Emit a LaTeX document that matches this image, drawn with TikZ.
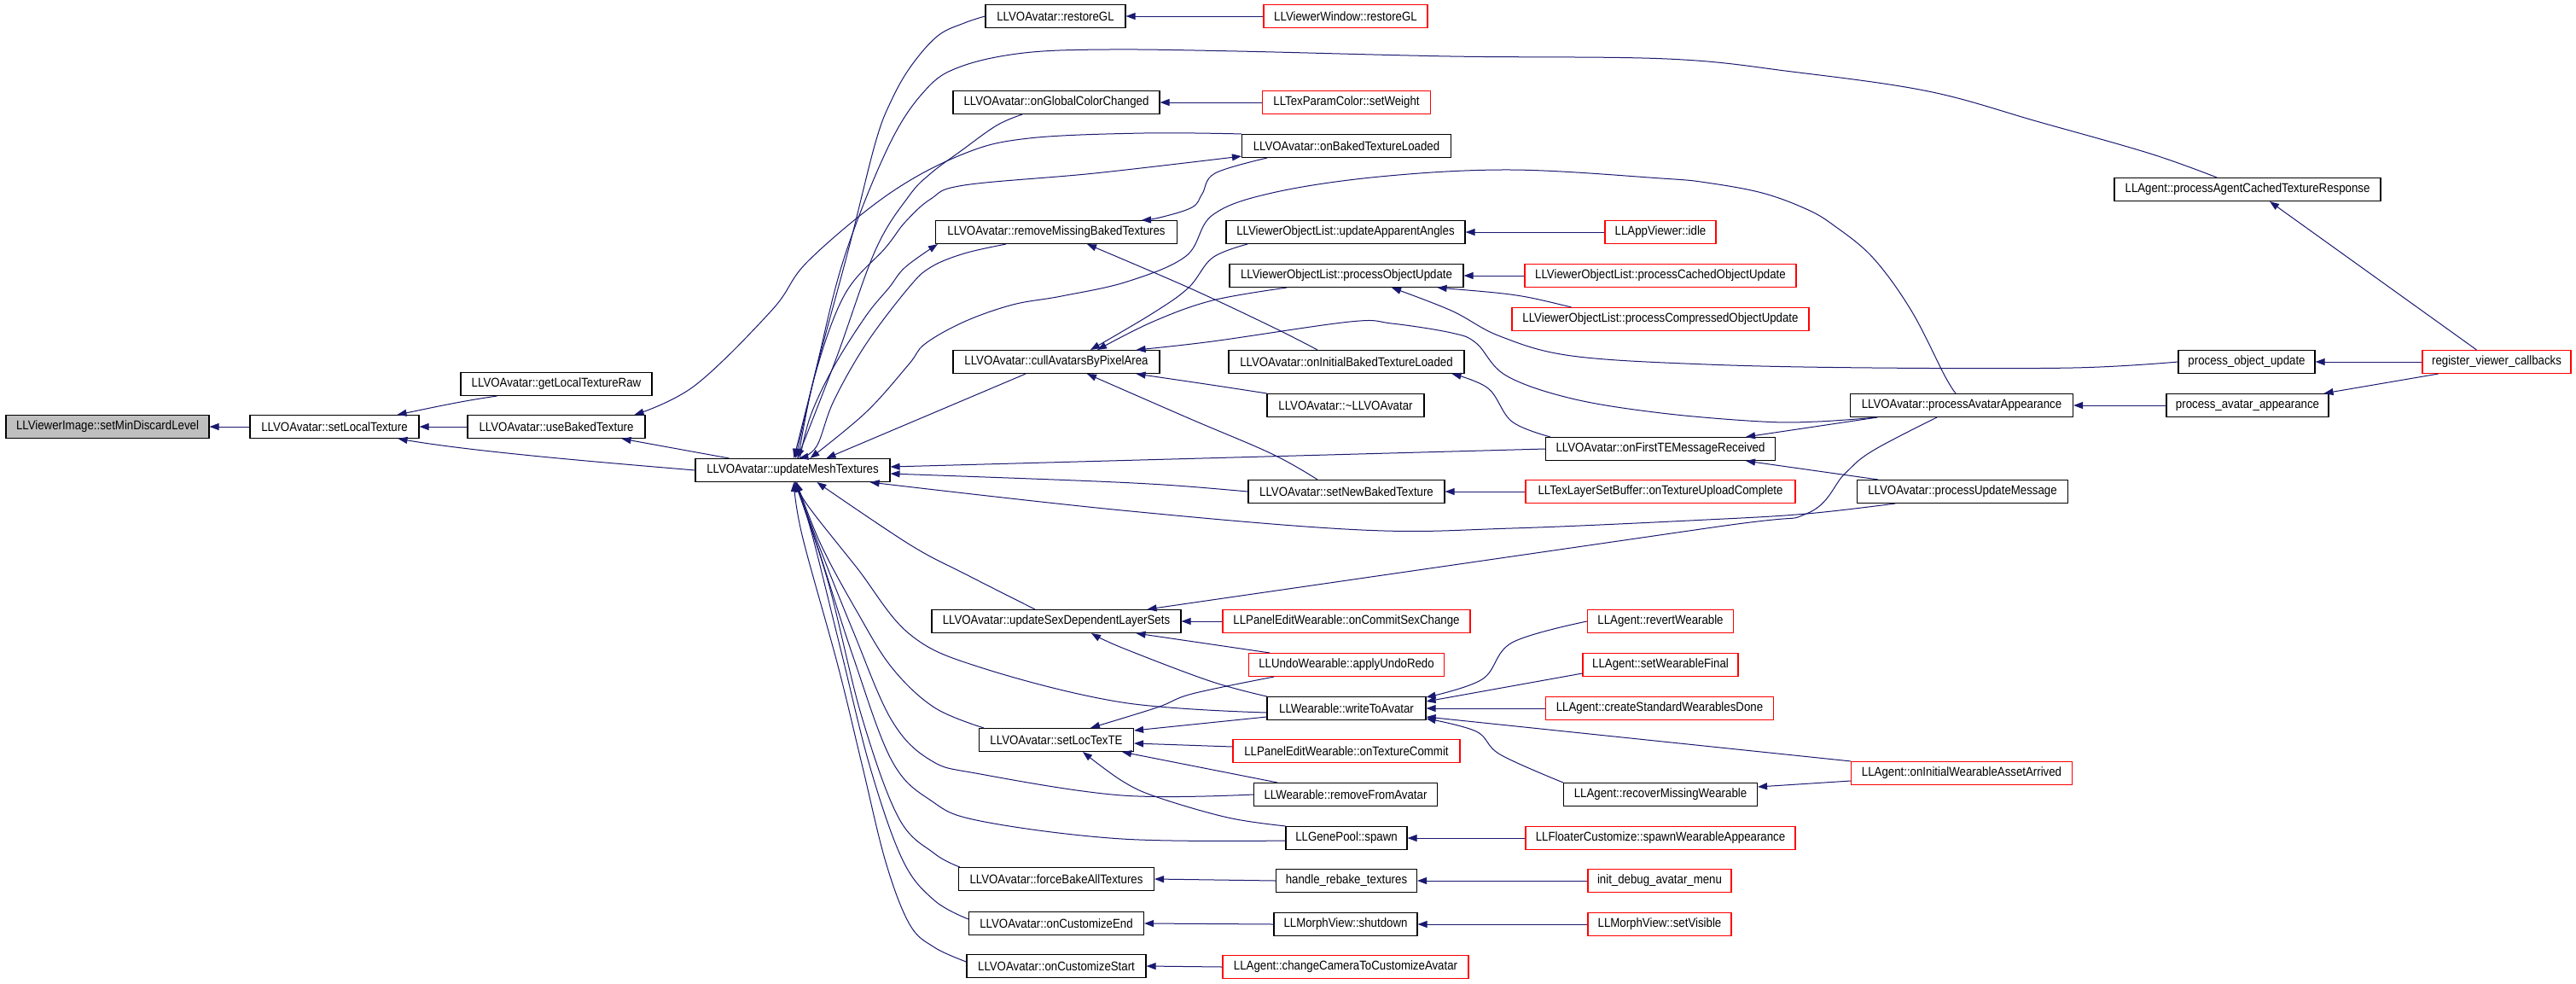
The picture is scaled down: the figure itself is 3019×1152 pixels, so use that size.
\documentclass[tikz,border=0pt]{standalone}
\usepackage{fontspec}
\newfontfamily\dox[FakeStretch=0.89]{Liberation Sans}
\usetikzlibrary{arrows.meta}
\definecolor{edgeblue}{HTML}{191970}
\definecolor{boxgray}{HTML}{BFBFBF}
\begin{document}
\begin{tikzpicture}[x=1pt,y=-1pt,
  box/.style={draw=black, line width=1.1pt, minimum height=27pt, inner sep=0pt, anchor=center,
    font=\dox\fontsize{14.9}{16}\selectfont},
  rbox/.style={box, draw=red},
  gbox/.style={box, fill=boxgray},
  e/.style={draw=edgeblue, line width=1pt, -{Triangle[length=11pt,width=8pt]}}]
\useasboundingbox (0,0) rectangle (3019,1152);
\fill[white] (0,0) rectangle (3019,1152);
% nodes
\node[gbox, minimum width=238] (n0) at (126,500) {LLViewerImage::setMinDiscardLevel};
\node[box, minimum width=198] (n1) at (392,500) {LLVOAvatar::setLocalTexture};
\node[box, minimum width=224] (n2) at (652,450) {LLVOAvatar::getLocalTextureRaw};
\node[box, minimum width=208] (n3) at (652,500) {LLVOAvatar::useBakedTexture};
\node[box, minimum width=228] (n4) at (929,551) {LLVOAvatar::updateMeshTextures};
\node[box, minimum width=164] (n5) at (1237,19) {LLVOAvatar::restoreGL};
\node[rbox, minimum width=192] (n6) at (1577,19) {LLViewerWindow::restoreGL};
\node[box, minimum width=242] (n7) at (1238,120) {LLVOAvatar::onGlobalColorChanged};
\node[rbox, minimum width=197] (n8) at (1578,120) {LLTexParamColor::setWeight};
\node[box, minimum width=245] (n9) at (1578,171) {LLVOAvatar::onBakedTextureLoaded};
\node[box, minimum width=283] (n10) at (1238,272) {LLVOAvatar::removeMissingBakedTextures};
\node[box, minimum width=280] (n11) at (1577,272) {LLViewerObjectList::updateApparentAngles};
\node[rbox, minimum width=130] (n12) at (1946,272) {LLAppViewer::idle};
\node[box, minimum width=274] (n13) at (1578,323) {LLViewerObjectList::processObjectUpdate};
\node[rbox, minimum width=318] (n14) at (1946,323) {LLViewerObjectList::processCachedObjectUpdate};
\node[rbox, minimum width=348] (n15) at (1946,374) {LLViewerObjectList::processCompressedObjectUpdate};
\node[box, minimum width=242] (n16) at (1238,424) {LLVOAvatar::cullAvatarsByPixelArea};
\node[box, minimum width=276] (n17) at (1578,424) {LLVOAvatar::onInitialBakedTextureLoaded};
\node[box, minimum width=184] (n18) at (1577,475) {LLVOAvatar::\textasciitilde LLVOAvatar};
\node[box, minimum width=269] (n19) at (1946,526) {LLVOAvatar::onFirstTEMessageReceived};
\node[box, minimum width=230] (n20) at (1578,576) {LLVOAvatar::setNewBakedTexture};
\node[rbox, minimum width=316] (n21) at (1946,576) {LLTexLayerSetBuffer::onTextureUploadComplete};
\node[box, minimum width=312] (n22) at (2634,222) {LLAgent::processAgentCachedTextureResponse};
\node[box, minimum width=160] (n23) at (2633,424) {process\_object\_update};
\node[rbox, minimum width=174] (n24) at (2926,424) {register\_viewer\_callbacks};
\node[box, minimum width=261] (n25) at (2299,475) {LLVOAvatar::processAvatarAppearance};
\node[box, minimum width=190] (n26) at (2634,475) {process\_avatar\_appearance};
\node[box, minimum width=247] (n27) at (2300,576) {LLVOAvatar::processUpdateMessage};
\node[box, minimum width=292] (n28) at (1238,728) {LLVOAvatar::updateSexDependentLayerSets};
\node[rbox, minimum width=290] (n29) at (1578,728) {LLPanelEditWearable::onCommitSexChange};
\node[rbox, minimum width=171] (n30) at (1946,728) {LLAgent::revertWearable};
\node[rbox, minimum width=229] (n31) at (1578,779) {LLUndoWearable::applyUndoRedo};
\node[rbox, minimum width=182] (n32) at (1946,779) {LLAgent::setWearableFinal};
\node[box, minimum width=186] (n33) at (1578,830) {LLWearable::writeToAvatar};
\node[rbox, minimum width=267] (n34) at (1945,830) {LLAgent::createStandardWearablesDone};
\node[box, minimum width=181] (n35) at (1238,867) {LLVOAvatar::setLocTexTE};
\node[rbox, minimum width=266] (n36) at (1578,880) {LLPanelEditWearable::onTextureCommit};
\node[box, minimum width=215] (n37) at (1577,931) {LLWearable::removeFromAvatar};
\node[box, minimum width=227] (n38) at (1946,931) {LLAgent::recoverMissingWearable};
\node[rbox, minimum width=259] (n39) at (2299,906) {LLAgent::onInitialWearableAssetArrived};
\node[box, minimum width=142] (n40) at (1578,982) {LLGenePool::spawn};
\node[rbox, minimum width=316] (n41) at (1946,982) {LLFloaterCustomize::spawnWearableAppearance};
\node[box, minimum width=229] (n42) at (1238,1030) {LLVOAvatar::forceBakeAllTextures};
\node[box, minimum width=165] (n43) at (1578,1032) {handle\_rebake\_textures};
\node[rbox, minimum width=168] (n44) at (1945,1032) {init\_debug\_avatar\_menu};
\node[box, minimum width=205] (n45) at (1238,1082) {LLVOAvatar::onCustomizeEnd};
\node[box, minimum width=168] (n46) at (1577,1083) {LLMorphView::shutdown};
\node[rbox, minimum width=168] (n47) at (1945,1083) {LLMorphView::setVisible};
\node[box, minimum width=210] (n48) at (1238,1132) {LLVOAvatar::onCustomizeStart};
\node[rbox, minimum width=288] (n49) at (1577,1133) {LLAgent::changeCameraToCustomizeAvatar};
% left part
\draw[e] (n1.west) -- (n0.east);
\draw[e] ([xshift=43]n2.south west) .. controls (540,470) and (505,478) .. ([xshift=-26]n1.north east);
\draw[e] (n3.west) -- (n1.east);
\draw[e] (n4.west) .. controls (720,543) and (560,530) .. ([xshift=-25]n1.south east);
\draw[e] ([xshift=40]n4.north west) -- ([xshift=-28]n3.south east);
\draw[e] plot[smooth,tension=.6] coordinates {(n9.north west) (1340,156) (1206,162) (1130,180) (1042,227) (947,306) (905,363) (814,452) ([xshift=-13]n3.north east)};
% top fan into updateMeshTextures
\draw[e] plot[smooth,tension=.6] coordinates {(n5.west) (1130,27) (1099,42) (1068,77) (1045,117) (1026,167) (995,290) (960,420) ([xshift=116]n4.north west)};
\draw[e] plot[smooth,tension=.6] coordinates {([xshift=-36]n22.north) (2520,180) (2390,143) (2260,107) (2100,84) (1954,69) (1700,66) (1450,60) (1300,58) (1200,62) (1126,78) (1085,105) (1042,170) (990,300) (957,430) ([xshift=118]n4.north west)};
\draw[e] plot[smooth,tension=.6] coordinates {([xshift=-40]n7.south) (1168,147) (1126,177) (1091,203) (1065,230) (1026,293) (980,420) ([xshift=120]n4.north west)};
\draw[e] plot[smooth,tension=.6] coordinates {([xshift=121]n4.north west) (955,440) (990,345) (1038,290) (1061,260) (1091,233) (1130,217) (1283,203) ([yshift=2]n9.south west)};
\draw[e] plot[smooth,tension=.6] coordinates {([xshift=123]n4.north west) (950,487) (977,430) (1015,370) (1042,337) (1061,313) ([xshift=3]n10.south west)};
\draw[e] plot[smooth,tension=.6] coordinates {([xshift=-59]n10.south) (1130,297) (1091,313) (1065,337) (1015,403) (977,470) (957,523) ([xshift=122]n4.north west)};
\draw[e] plot[smooth,tension=.6] coordinates {([xshift=-7]n25.north) (2279,440) (2240,364) (2195,302) (2149,264) (2117,245) (2065,226) (2000,214) (1947,209) (1772,199) (1617,207) (1491,226) (1421,252) (1390,300) (1321,330) (1244,347) (1187,357) (1130,377) (1084,403) (1065,427) (1015,483) ([xshift=135]n4.north west)};
\draw[e] ([xshift=-36]n16.south) -- ([xshift=154]n4.north west);
% middle
\draw[e] plot[smooth,tension=.6] coordinates {([xshift=-93]n9.south) (1424,203) (1409,227) (1397,243) (1359,255) ([xshift=100]n10.north)};
\draw[e] plot[smooth,tension=.6] coordinates {([xshift=-115]n11.south) (1421,302) (1393,337) (1351,367) ([xshift=40]n16.north)};
\draw[e] plot[smooth,tension=.6] coordinates {([xshift=-70]n13.south) (1421,352) (1351,377) ([xshift=48]n16.north)};
\draw[e] plot[smooth,tension=.6] coordinates {([xshift=32]n25.south west) (2130,494) (2065,494) (1947,484) (1842,467) (1765,440) (1730,402) (1701,390) (1631,379) (1582,377) (1421,400) ([xshift=-28]n16.north east)};
\draw[e] (n18.north west) .. controls (1420,451) .. ([xshift=-28]n16.south east);
\draw[e] plot[smooth,tension=.6] coordinates {([xshift=-34]n20.north) (1491,532) (1393,490) ([xshift=36]n16.south)};
\draw[e] plot[smooth,tension=.6] coordinates {([xshift=-34]n17.north) (1491,383) (1393,337) ([xshift=36]n10.south)};
\draw[e] (n19.west) -- ([yshift=4]n4.east);
\draw[e] (n20.west) .. controls (1350,566) .. ([yshift=-4]n4.east);
\draw[e] plot[smooth,tension=.6] coordinates {([xshift=45]n27.south west) (2117,602) (2000,609) (1772,619) (1596,621) (1315,598) ([xshift=-24]n4.south east)};
\draw[e] plot[smooth,tension=.6] coordinates {([xshift=-29]n25.south) (2195,528) (2162,555) (2117,602) (2000,619) ([xshift=-40]n28.north east)};
\draw[e] plot[smooth,tension=.6] coordinates {([xshift=6]n19.north west) (1772,494) (1744,455) ([xshift=-15]n17.south east)};
\draw[e] ([xshift=32]n25.south west) -- ([xshift=-35]n19.north east);
\draw[e] ([xshift=25]n27.north west) -- ([xshift=-35]n19.south east);
\draw[e] (n14.west) -- (n13.east);
\draw[e] ([xshift=70]n15.north west) .. controls (1780,345) .. ([xshift=-31]n13.south east);
\draw[e] plot[smooth,tension=.6] coordinates {(n23.west) (2429,431) (2195,431) (2000,427) (1842,417) (1758,394) (1701,364) ([xshift=53]n13.south)};
\draw[e] (n12.west) -- (n11.east);
\draw[e] (n6.west) -- (n5.east);
\draw[e] (n8.west) -- (n7.east);
\draw[e] (n21.west) -- (n20.east);
\draw[e] ([xshift=64]n24.north west) -- ([xshift=26]n22.south);
\draw[e] (n24.west) -- (n23.east);
\draw[e] ([xshift=19]n24.south west) -- ([xshift=-6]n26.north east);
\draw[e] (n26.west) -- (n25.east);
% lower part
\draw[e] plot[smooth,tension=.6] coordinates {([xshift=-25]n28.north) (1132,673) (1066,638) ([xshift=143]n4.south west)};
\draw[e] (n29.west) -- (n28.east);
\draw[e] ([xshift=25]n31.north west) -- ([xshift=-53]n28.south east);
\draw[e] plot[smooth,tension=.6] coordinates {(n33.north west) (1418,798) (1315,759) ([xshift=41]n28.south)};
\draw[e] plot[smooth,tension=.6] coordinates {([yshift=-5]n33.west) (1315,823) (1149,782) (1066,743) (1004,665) (945,590) ([xshift=120]n4.south west)};
\draw[e] ([yshift=-10]n33.west) -- ([yshift=-3]n35.north east);
\draw[e] plot[smooth,tension=.6] coordinates {([xshift=30]n31.south west) (1397,813) (1356,829) ([xshift=40]n35.north)};
\draw[e] ([yshift=5]n36.west) -- ([yshift=-4]n35.east);
\draw[e] ([xshift=28]n37.north west) -- ([xshift=-14]n35.south east);
\draw[e] plot[smooth,tension=.6] coordinates {(n40.north west) (1439,958) (1356,934) (1315,915) ([xshift=31]n35.south)};
\draw[e] plot[smooth,tension=.6] coordinates {([xshift=-85]n35.north) (1095,829) (1045,782) (1004,716) (962,638) ([xshift=119]n4.south west)};
\draw[e] plot[smooth,tension=.6] coordinates {(n37.west) (1315,932) (1149,907) (1091,891) (1045,844) (1000,740) (960,640) ([xshift=118]n4.south west)};
\draw[e] plot[smooth,tension=.6] coordinates {([yshift=-3]n40.west) (1315,983) (1149,962) (1091,938) (1045,891) (1000,770) (958,640) ([xshift=118]n4.south west)};
\draw[e] plot[smooth,tension=.6] coordinates {([xshift=2]n42.north west) (1095,1000) (1053,958) (1010,840) (970,680) ([xshift=117]n4.south west)};
\draw[e] plot[smooth,tension=.6] coordinates {([yshift=5]n45.west) (1095,1055) (1058,1008) (1020,900) (985,760) (950,620) ([xshift=117]n4.south west)};
\draw[e] plot[smooth,tension=.6] coordinates {([yshift=5]n48.west) (1095,1110) (1066,1083) (1038,1010) (1010,895) (982,780) (940,627) ([xshift=116]n4.south west)};
\draw[e] (n43.west) -- (n42.east);
\draw[e] (n44.west) -- (n43.east);
\draw[e] (n46.west) -- (n45.east);
\draw[e] (n47.west) -- (n46.east);
\draw[e] (n49.west) -- (n48.east);
\draw[e] (n41.west) -- (n40.east);
\draw[e] plot[smooth,tension=.6] coordinates {(n30.west) (1772,753) (1737,796) ([yshift=-1]n33.north east)};
\draw[e] ([yshift=-10]n32.west) -- ([yshift=-6]n33.north east);
\draw[e] (n34.west) -- (n33.east);
\draw[e] (n39.north west) -- ([yshift=-10]n33.east);
\draw[e] plot[smooth,tension=.6] coordinates {(n38.north west) (1758,884) (1730,857) ([yshift=-12]n33.east)};
\draw[e] ([yshift=-9]n39.west) -- ([yshift=9]n38.east);
\end{tikzpicture}
\end{document}
